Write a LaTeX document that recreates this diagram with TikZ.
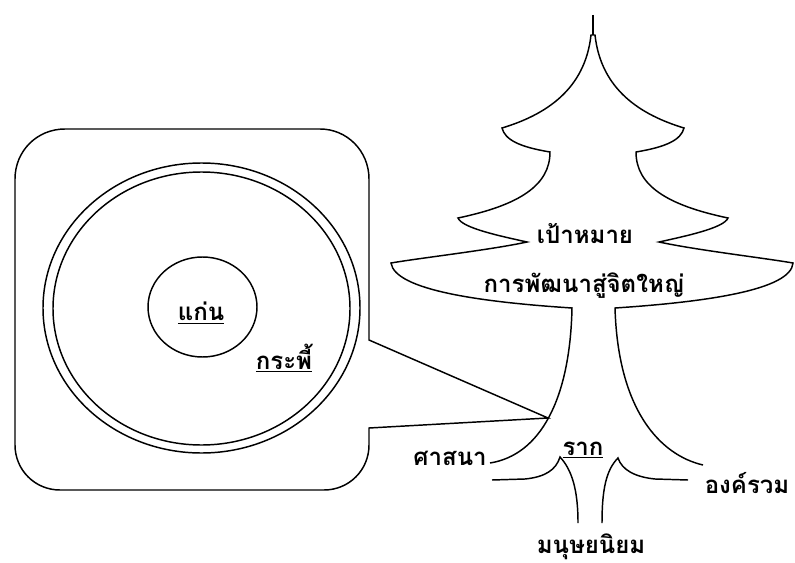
\documentclass[tikz,border=0pt]{standalone}
\usepackage{fontspec}
\newfontfamily\thaifont[Script=Thai]{Loma}

\tikzset{every picture/.style={line width=1.1pt}}

\begin{document}
\begin{tikzpicture}[x=0.75pt,y=0.75pt,yscale=-1,xscale=1]
	\useasboundingbox (0,0) rectangle (795,563);
	
	%Shape: Callout [id:cl_log] 
	\draw   (15,179) .. controls (15,151) and (37,129) .. (65,129) -- (320,129) .. controls (347,129) and (369,151) .. (369,179) -- (369,340) -- (548,418) -- (369,428) -- (369,445) .. controls (369,470) and (349,490) .. (324,490) -- (60,490) .. controls (35,490) and (15,470) .. (15,445) -- cycle ;
	%Shape: Ellipse [id:el_bark_out] 
	\draw   (201.5,308) ellipse (158.5 and 145) ;
	%Shape: Ellipse [id:el_bark_in] 
	\draw   (201.5,308.5) ellipse (148.5 and 136.5) ;
	%Shape: Ellipse [id:el_core] 
	\draw   (202.5,307) ellipse (54.5 and 50) ;
	
	%Shape: Spire [id:sp_top] 
	\draw [line width=2pt]  (593,15) -- (593,35) ;
	%Shape: Tree [id:tr_body] 
	\draw   (490,463) .. controls (540,455) and (570,400) .. (572,308) .. controls (480,302) and (395,290) .. (391,263) .. controls (420,258) and (490,250) .. (527,242) .. controls (500,236) and (462,228) .. (458,218) .. controls (520,205) and (550,185) .. (550,152) .. controls (520,147) and (505,140) .. (502,128) .. controls (545,115) and (585,90) .. (591,35) -- (595,35) .. controls (601,90) and (641,115) .. (684,128) .. controls (681,140) and (666,147) .. (636,152) .. controls (636,185) and (666,205) .. (728,218) .. controls (724,228) and (686,236) .. (659,242) .. controls (696,250) and (764,258) .. (793,263) .. controls (791,290) and (706,302) .. (615,308) .. controls (618,410) and (660,455) .. (703,465) ;
	
	%Shape: Root [id:rt_left] 
	\draw   (492,480) -- (525,479) .. controls (545,477) and (556,470) .. (560,457) .. controls (572,470) and (578,490) .. (578,523) ;
	%Shape: Root [id:rt_right] 
	\draw   (688,480) -- (655,479) .. controls (635,477) and (622,470) .. (618,458) .. controls (606,470) and (602,490) .. (602,523) ;
	
	% Text Node
	\draw (201,313) node [inner sep=0.75pt]  [font=\thaifont\bfseries\fontsize{18}{20}\selectfont] [align=left] (core) {\underline{แก่น}};
	% Text Node
	\draw (284,358) node [inner sep=0.75pt]  [font=\thaifont\bfseries\fontsize{18}{20}\selectfont] [align=left] (sapwood) {\underline{กระพี้}};
	% Text Node
	\draw (585,234) node [inner sep=0.75pt]  [font=\thaifont\bfseries\fontsize{18}{20}\selectfont] [align=left] (goal) {เป้าหมาย};
	% Text Node
	\draw (584,286) node [inner sep=0.75pt]  [font=\thaifont\bfseries\fontsize{18}{20}\selectfont] [align=left] (growth) {การพัฒนาสู่จิตใหญ่};
	% Text Node
	\draw (450,458) node [inner sep=0.75pt]  [font=\thaifont\bfseries\fontsize{18}{20}\selectfont] [align=left] (religion) {ศาสนา};
	% Text Node
	\draw (583,450) node [inner sep=0.75pt]  [font=\thaifont\bfseries\fontsize{18}{20}\selectfont] [align=left] (root) {\underline{ราก}};
	% Text Node
	\draw (747,483) node [inner sep=0.75pt]  [font=\thaifont\bfseries\fontsize{18}{20}\selectfont] [align=left] (holism) {องค์รวม};
	% Text Node
	\draw (591,547) node [inner sep=0.75pt]  [font=\thaifont\bfseries\fontsize{18}{20}\selectfont] [align=left] (humanism) {มนุษยนิยม};
	
\end{tikzpicture}
\end{document}
